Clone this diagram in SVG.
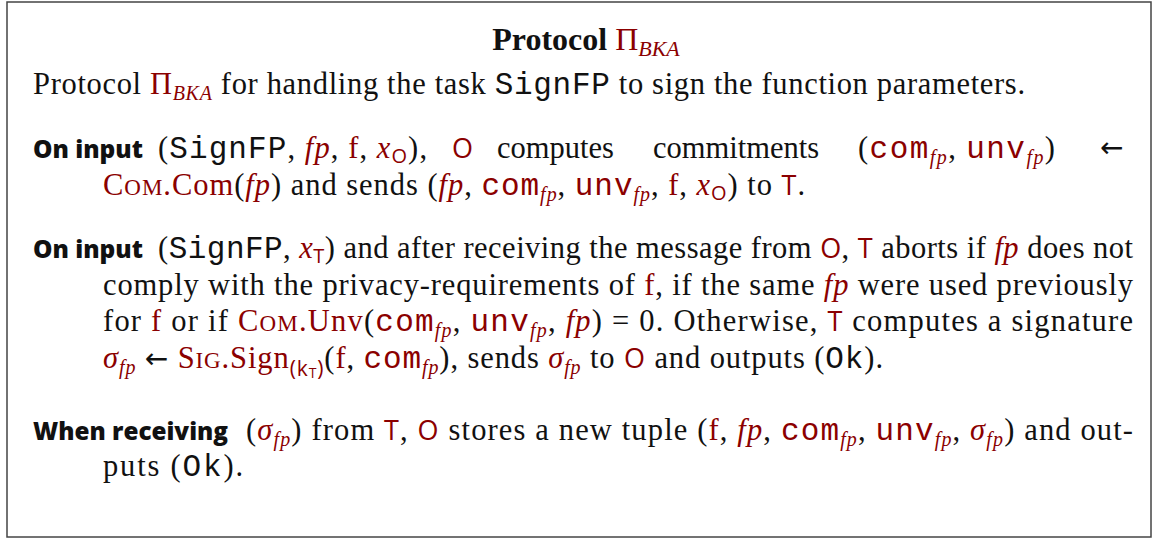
<svg xmlns="http://www.w3.org/2000/svg" width="1152" height="541" viewBox="0 0 1152 541">
<style>
text{font-family:"Liberation Serif",serif;font-size:30.5px;fill:#111}
.r{fill:#8b0000}
.i{font-style:italic}
.m{font-family:"Liberation Mono",monospace;font-size:31px}
.sf{font-family:"Open Sans","Liberation Sans",sans-serif;font-size:27px}
.b{font-family:"Open Sans","Liberation Sans",sans-serif;font-weight:800;font-size:25px}
.sub{font-size:20px}
.sc{font-size:23px}
.ar{font-family:"DejaVu Sans",sans-serif;font-size:28px}
</style>
<rect x="7" y="2" width="1144" height="535" fill="#fff" stroke="#444" stroke-width="1.5"/>
<g id="title">
<text x="586" y="50" text-anchor="middle" style="font-weight:bold;font-size:32px">Protocol <tspan class="r" style="font-weight:normal">Π</tspan><tspan class="r i" style="font-weight:normal;font-size:22px" dy="6">BKA</tspan></text>
<text x="33" y="94" textLength="992" lengthAdjust="spacing">Protocol <tspan class="r">Π</tspan><tspan class="r i sub" dy="6">BKA</tspan><tspan dy="-6"> for handling the task </tspan><tspan class="m">SignFP</tspan> to sign the function parameters.</text>
</g>
<g id="para1">
<text class="b" x="33" y="158" textLength="110" lengthAdjust="spacingAndGlyphs">On input</text>
<text x="158" y="158" textLength="269" lengthAdjust="spacing">(<tspan class="m">SignFP</tspan>, <tspan class="r i">fp</tspan>, <tspan class="r">f</tspan>, <tspan class="r i">x</tspan><tspan class="r sf sub" dy="5">O</tspan><tspan dy="-5">),</tspan></text>
<text class="r sf" x="452" y="158">O</text>
<text x="497" y="158">computes</text>
<text x="653" y="158">commitments</text>
<text x="858" y="158" textLength="197" lengthAdjust="spacing">(<tspan class="r m">com</tspan><tspan class="r i sub" dy="6">fp</tspan><tspan dy="-6">, </tspan><tspan class="r m">unv</tspan><tspan class="r i sub" dy="6">fp</tspan><tspan dy="-6">)</tspan></text>
<text class="ar" x="1100" y="157">←</text>
<text x="103" y="195" textLength="702" lengthAdjust="spacing"><tspan class="r">C</tspan><tspan class="r sc">OM</tspan><tspan class="r">.Com</tspan>(<tspan class="r i">fp</tspan>) and sends (<tspan class="r i">fp</tspan>, <tspan class="r m">com</tspan><tspan class="r i sub" dy="6">fp</tspan><tspan dy="-6">, </tspan><tspan class="r m">unv</tspan><tspan class="r i sub" dy="6">fp</tspan><tspan dy="-6">, </tspan><tspan class="r">f</tspan>, <tspan class="r i">x</tspan><tspan class="r sf sub" dy="5">O</tspan><tspan dy="-5">) to </tspan><tspan class="r sf">T</tspan>.</text>
</g>
<g id="para2">
<text class="b" x="33" y="258" textLength="110" lengthAdjust="spacingAndGlyphs">On input</text>
<text x="158" y="258" textLength="975" lengthAdjust="spacing">(<tspan class="m">SignFP</tspan>, <tspan class="r i">x</tspan><tspan class="r sf sub" dy="5">T</tspan><tspan dy="-5">) and after receiving the message from </tspan><tspan class="r sf">O</tspan>, <tspan class="r sf">T</tspan> aborts if <tspan class="r i">fp</tspan> does not</text>
<text x="103" y="295" textLength="1030" lengthAdjust="spacing">comply with the privacy-requirements of <tspan class="r">f</tspan>, if the same <tspan class="r i">fp</tspan> were used previously</text>
<text x="103" y="331" textLength="1030" lengthAdjust="spacing">for <tspan class="r">f</tspan> or if <tspan class="r">C</tspan><tspan class="r sc">OM</tspan><tspan class="r">.Unv</tspan>(<tspan class="r m">com</tspan><tspan class="r i sub" dy="6">fp</tspan><tspan dy="-6">, </tspan><tspan class="r m">unv</tspan><tspan class="r i sub" dy="6">fp</tspan><tspan dy="-6">, </tspan><tspan class="r i">fp</tspan>) = 0. Otherwise, <tspan class="r sf">T</tspan> computes a signature</text>
<text x="103" y="368" textLength="780" lengthAdjust="spacing"><tspan class="r i">σ</tspan><tspan class="r i sub" dy="6">fp</tspan><tspan dy="-6"> </tspan><tspan class="ar">←</tspan> <tspan class="r">S</tspan><tspan class="r sc">IG</tspan><tspan class="r">.Sign</tspan><tspan class="r sf" style="font-size:21px" dy="8">(k</tspan><tspan class="r sf" style="font-size:14px" dy="2">T</tspan><tspan class="r sf" style="font-size:21px" dy="-2">)</tspan><tspan dy="-8">(</tspan><tspan class="r">f</tspan>, <tspan class="r m">com</tspan><tspan class="r i sub" dy="6">fp</tspan><tspan dy="-6">), sends </tspan><tspan class="r i">σ</tspan><tspan class="r i sub" dy="6">fp</tspan><tspan dy="-6"> to </tspan><tspan class="r sf">O</tspan> and outputs (<tspan class="m">Ok</tspan>).</text>
</g>
<g id="para3">
<text class="b" x="33" y="440" textLength="195" lengthAdjust="spacingAndGlyphs">When receiving</text>
<text x="246" y="440" textLength="887" lengthAdjust="spacing">(<tspan class="r i">σ</tspan><tspan class="r i sub" dy="6">fp</tspan><tspan dy="-6">) from </tspan><tspan class="r sf">T</tspan>, <tspan class="r sf">O</tspan> stores a new tuple (<tspan class="r">f</tspan>, <tspan class="r i">fp</tspan>, <tspan class="r m">com</tspan><tspan class="r i sub" dy="6">fp</tspan><tspan dy="-6">, </tspan><tspan class="r m">unv</tspan><tspan class="r i sub" dy="6">fp</tspan><tspan dy="-6">, </tspan><tspan class="r i">σ</tspan><tspan class="r i sub" dy="6">fp</tspan><tspan dy="-6">) and out-</tspan></text>
<text x="103" y="476" textLength="140" lengthAdjust="spacing">puts (<tspan class="m">Ok</tspan>).</text>
</g>
</svg>
